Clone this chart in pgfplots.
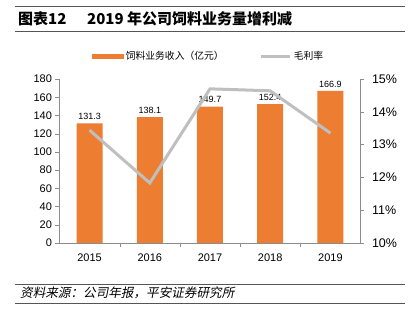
\documentclass[border=0pt]{standalone}
\usepackage{pgfplots}
\pgfplotsset{compat=1.18}
\usepackage{fontspec}
\setmainfont{Liberation Sans}
\newfontfamily\cjk{Noto Sans CJK SC}
\newfontfamily\cjkit{Noto Sans CJK SC}[FakeSlant=0.2]
\definecolor{barorange}{HTML}{ED7D31}
\definecolor{linegray}{HTML}{BFBFBF}
\definecolor{axisgray}{HTML}{8C8C8C}
\definecolor{rulegray}{HTML}{555555}
\begin{document}
\begin{tikzpicture}
\useasboundingbox (0pt,0pt) rectangle (413pt,326pt);
\draw[line width=1pt, rulegray] (15pt,319pt) -- (405pt,319pt);
\draw[line width=1pt, rulegray] (15pt,294pt) -- (405pt,294pt);
\node[anchor=base west, inner sep=0pt, font=\cjk\bfseries\fontsize{15}{15}\selectfont] at (18pt,301pt) {图表12};
\node[anchor=base west, inner sep=0pt, font=\cjk\bfseries\fontsize{15}{15}\selectfont] at (87pt,301pt) {2019 年公司饲料业务量增利减};
\draw[line width=0.8pt, rulegray] (15pt,42pt) -- (405pt,42pt);
\draw[line width=0.8pt, rulegray] (15pt,23pt) -- (405pt,23pt);
\node[anchor=base west, inner sep=0pt, font=\cjkit\fontsize{12.6}{12.6}\selectfont] at (20pt,28pt) {资料来源：公司年报，平安证券研究所};

\begin{axis}[
  at={(59.5pt,83pt)}, anchor=south west,
  scale only axis, width=301pt, height=164pt,
  xmin=-0.5, xmax=4.5, ymin=0, ymax=180,
  ytick={0,20,...,180},
  axis y line*=left, axis x line*=bottom,
  axis line style={axisgray, line width=0.8pt},
  xtick={0,1,2,3,4},
  xticklabels={2015,2016,2017,2018,2019},
  major x tick style={draw=none},
  minor xtick={0.5,1.5,2.5,3.5},
  minor x tick style={axisgray},
  minor tick length=4pt,
  major tick length=4pt,
  tick align=outside,
  ytick style={axisgray},
  /pgf/number format/assume math mode=true,
  ticklabel style={font=\fontsize{11}{11}\selectfont},
  xticklabel style={yshift=-3pt},
  legend columns=2,
  legend style={draw=none, fill=none, at={(0.495,1.14)}, anchor=center,
    font=\cjk\fontsize{9.8}{10}\selectfont,
    /tikz/every even column/.append style={column sep=34pt}},
  clip=false,
]
\addplot[ybar, bar width=26pt, fill=barorange, draw=none,
  nodes near coords,
  nodes near coords style={font=\fontsize{9}{9}\selectfont, black, /pgf/number format/.cd, fixed, fixed zerofill, precision=1, assume math mode=true},
  legend image code/.code={\fill[barorange] (0pt,-2.5pt) rectangle (32pt,2.5pt);}]
  coordinates {(0,131.3) (1,138.1) (2,149.7) (3,152.4) (4,166.9)};
\addlegendentry{饲料业务收入（亿元）}
\addlegendimage{linegray, line width=3pt, legend image code/.code={\draw[linegray, line width=3pt] (0pt,0pt) -- (29pt,0pt);}}
\addlegendentry{毛利率}
\end{axis}

\begin{axis}[
  at={(59.5pt,83pt)}, anchor=south west,
  scale only axis, width=301pt, height=164pt,
  xmin=-0.5, xmax=4.5, ymin=10, ymax=15,
  ytick={10,11,...,15},
  axis y line*=right, axis x line=none,
  axis line style={axisgray, line width=0.8pt},
  ytick style={axisgray},
  major tick length=4pt,
  tick align=outside,
  /pgf/number format/assume math mode=true,
  yticklabel={\pgfmathprintnumber{\tick}\%},
  ticklabel style={font=\fontsize{12.5}{12.5}\selectfont},
  yticklabel style={xshift=4pt},
]
\addplot[linegray, line width=3pt, mark=none]
  coordinates {(0,13.44) (1,11.83) (2,14.70) (3,14.64) (4,13.35)};
\end{axis}
\end{tikzpicture}
\end{document}
